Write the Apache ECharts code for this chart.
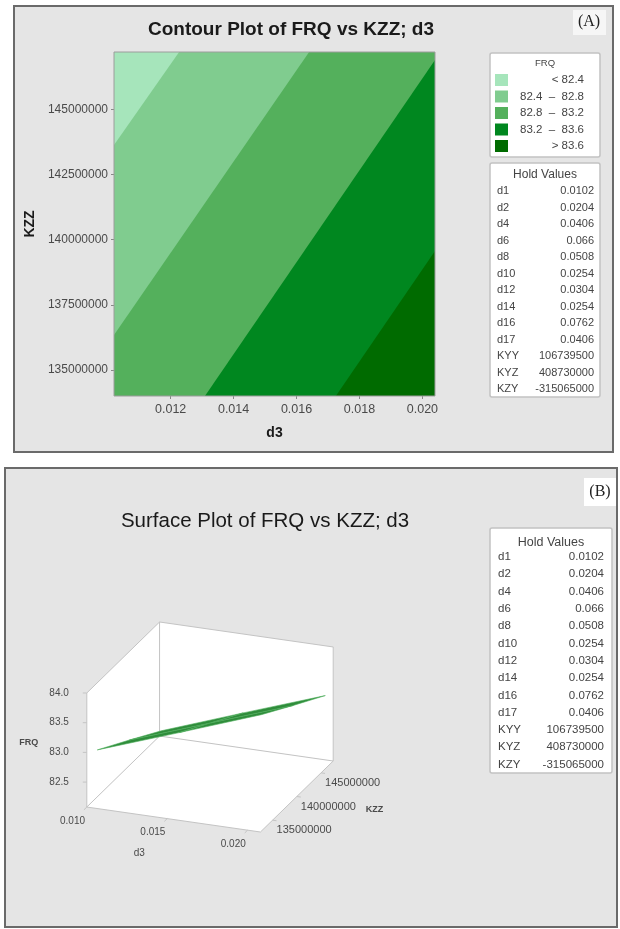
<!DOCTYPE html>
<html>
<head>
<meta charset="utf-8">
<script src="https://cdn.jsdelivr.net/npm/echarts@6/dist/echarts.min.js"></script>
<style>
html, body { margin: 0; padding: 0; background: #ffffff; }
#chart { width: 620px; height: 929px; }
</style>
</head>
<body>
<div id="chart"></div>
<script>
// ---- Contour plot (A) ----
const d3Range = [0.0102, 0.0204];
const kzzRange = [134000000, 147200000];
const d3Ticks = [0.012, 0.014, 0.016, 0.018, 0.020];
const kzzTicks = [135000000, 137500000, 140000000, 142500000, 145000000];

// FRQ contour levels; each level line runs from levelLineStart to levelLineEnd (d3, KZZ)
const frqLevels = [82.4, 82.8, 83.2, 83.6];
const levelLineStart = [[0.01227, 147200000], [0.01640, 147200000], [0.0204, 146890000], [0.0204, 139560000]];
const levelLineEnd = [[0.0102, 143630000], [0.0102, 136340000], [0.01309, 134000000], [0.01725, 134000000]];
const bandColors = ['#a6e5bb', '#80cc8f', '#54b05c', '#00871f', '#006b00'];
const bandLabels = ['< 82.4', '82.4  \u2013  82.8', '82.8  \u2013  83.2', '83.2  \u2013  83.6', '> 83.6'];

// Hold values shown beside both plots
const holdNames = ['d1', 'd2', 'd4', 'd6', 'd8', 'd10', 'd12', 'd14', 'd16', 'd17', 'KYY', 'KYZ', 'KZY'];
const holdValues = ['0.0102', '0.0204', '0.0406', '0.066', '0.0508', '0.0254', '0.0304', '0.0254', '0.0762', '0.0406', '106739500', '408730000', '-315065000'];

// ---- Surface plot (B) ----
const surfD3 = [0.0102, 0.0153, 0.0204];
const surfKzz = [134000000, 140600000, 147200000];
// surfFrq[i][j] is FRQ at d3 = surfD3[i], KZZ = surfKzz[j]
const surfFrq = [
  [82.93, 82.57, 82.20],
  [83.42, 83.06, 82.70],
  [83.92, 83.55, 83.19]
];
const box3dD3 = [0.0100, 0.0208];
const box3dKzz = [132500000, 147500000];
const box3dFrq = [82.08, 84.0];
const surfD3Ticks = [0.010, 0.015, 0.020];
const surfKzzTicks = [135000000, 140000000, 145000000];
const surfFrqTicks = [82.5, 83.0, 83.5, 84.0];

const SANS = '"Liberation Sans", Arial, sans-serif';
const SERIF = '"Liberation Serif", "Times New Roman", serif';

// Orthographic view of the 3D box, output in screen units (y up)
const view = { azimuth: 21 * Math.PI / 180, elevation: 22 * Math.PI / 180, lenX: 186, lenY: 203, lenZ: 123 };
function project(d3, kzz, frq) {
  const u = (d3 - box3dD3[0]) / (box3dD3[1] - box3dD3[0]) - 0.5;
  const v = (kzz - box3dKzz[0]) / (box3dKzz[1] - box3dKzz[0]) - 0.5;
  const w = (frq - box3dFrq[0]) / (box3dFrq[1] - box3dFrq[0]) - 0.5;
  const x = u * view.lenX, y = v * view.lenY, z = w * view.lenZ;
  const ca = Math.cos(view.azimuth), sa = Math.sin(view.azimuth);
  const ce = Math.cos(view.elevation), se = Math.sin(view.elevation);
  return [x * ca + y * sa, z * ce + (-x * sa + y * ca) * se];
}

// Keep the part of a convex polygon lying on the same side of line a-b as ref
function clipHalf(poly, a, b, ref) {
  const side = p => (b[0] - a[0]) * (p[1] - a[1]) - (b[1] - a[1]) * (p[0] - a[0]);
  const s = Math.sign(side(ref));
  const out = [];
  for (let i = 0; i < poly.length; i++) {
    const p = poly[i], q = poly[(i + 1) % poly.length];
    const sp = side(p) * s, sq = side(q) * s;
    if (sp >= 0) out.push(p);
    if ((sp >= 0) !== (sq >= 0)) {
      const t = sp / (sp - sq);
      out.push([p[0] + t * (q[0] - p[0]), p[1] + t * (q[1] - p[1])]);
    }
  }
  return out;
}

function renderBand(params, api) {
  const k = params.dataIndex;
  const tl = api.coord([d3Range[0], kzzRange[1]]);
  const tr = api.coord([d3Range[1], kzzRange[1]]);
  const br = api.coord([d3Range[1], kzzRange[0]]);
  const bl = api.coord([d3Range[0], kzzRange[0]]);
  let poly = [tl, tr, br, bl];
  if (k > 0) {
    poly = clipHalf(poly, api.coord(levelLineStart[k - 1]), api.coord(levelLineEnd[k - 1]), br);
  }
  return { type: 'polygon', z2: k, shape: { points: poly }, style: { fill: bandColors[k] } };
}

function renderFrame(params, api) {
  const P = (d, k, f) => api.coord(project(d, k, f));
  const [d0, d1] = box3dD3, [k0, k1] = box3dKzz, [f0, f1] = box3dFrq;
  const A = P(d0, k0, f0), B = P(d1, k0, f0), C = P(d1, k1, f0), D = P(d0, k1, f0);
  const A2 = P(d0, k0, f1), C2 = P(d1, k1, f1), D2 = P(d0, k1, f1);
  const kids = [];
  const wall = pts => ({ type: 'polygon', shape: { points: pts }, style: { fill: '#ffffff' } });
  kids.push(wall([A, B, C, D]), wall([A, D, D2, A2]), wall([D, C, C2, D2]));
  const edge = (p, q) => ({ type: 'line', shape: { x1: p[0], y1: p[1], x2: q[0], y2: q[1] }, style: { stroke: '#c4c4c4', lineWidth: 1 } });
  [[A, A2], [A2, D2], [D2, C2], [C2, C], [D, D2], [A, B], [B, C], [C, D], [D, A]].forEach(e => kids.push(edge(e[0], e[1])));
  const txt = (x, y, s, align, size, weight) => ({
    type: 'text', x: x, y: y,
    style: { text: s, fill: '#4a4a4a', font: (weight || 'normal') + ' ' + (size || 10) + 'px ' + SANS, align: align, verticalAlign: 'middle' }
  });
  const unit = (p, q) => { const dx = q[0] - p[0], dy = q[1] - p[1], l = Math.hypot(dx, dy); return [dx / l, dy / l]; };
  const toward = unit(D, A);   // d3 labels sit on the viewer side
  const outward = unit(A, B);  // KZZ labels sit to the right
  // FRQ axis
  surfFrqTicks.forEach(f => {
    const p = P(d0, k0, f);
    kids.push(edge([p[0] - 4, p[1]], p));
    kids.push(txt(p[0] - 18, p[1], f.toFixed(1), 'right'));
  });
  const zm = P(d0, k0, (f0 + f1) / 2);
  kids.push(txt(zm[0] - 58, zm[1] - 7, 'FRQ', 'center', 9, 'bold'));
  // d3 axis
  surfD3Ticks.forEach(d => {
    const p = P(d, k0, f0);
    kids.push(edge(p, [p[0] + toward[0] * 4, p[1] + toward[1] * 4]));
    kids.push(txt(p[0] + toward[0] * 20, p[1] + toward[1] * 20, d.toFixed(3), 'center'));
  });
  const xm = P((d0 + d1) / 2, k0, f0);
  kids.push(txt(xm[0] + toward[0] * 48, xm[1] + toward[1] * 48, 'd3', 'center', 10));
  // KZZ axis
  surfKzzTicks.forEach(k => {
    const p = P(d1, k, f0);
    kids.push(edge(p, [p[0] + outward[0] * 4, p[1] + outward[1] * 4]));
    kids.push(txt(p[0] + 4, p[1] + 10, String(k), 'left', 11));
  });
  const ym = P(d1, (k0 + k1) / 2, f0);
  kids.push(txt(ym[0] + 69, ym[1] + 13, 'KZZ', 'left', 9, 'bold'));
  return { type: 'group', children: kids };
}

function renderSurface(params, api) {
  const i = Math.floor(params.dataIndex / (surfKzz.length - 1));
  const j = params.dataIndex % (surfKzz.length - 1);
  const P = (a, b) => api.coord(project(surfD3[a], surfKzz[b], surfFrq[a][b]));
  return {
    type: 'polygon',
    shape: { points: [P(i, j), P(i + 1, j), P(i + 1, j + 1), P(i, j + 1)] },
    style: { fill: '#2f8c3b', stroke: '#4fae5c', lineWidth: 0.6 }
  };
}

const surfCells = [];
for (let i = 0; i < surfD3.length - 1; i++) {
  for (let j = 0; j < surfKzz.length - 1; j++) surfCells.push([i, j]);
}

// Decorations: panels, panel letters, legend and hold-value boxes
const graphics = [
  { type: 'rect', z: -10, shape: { x: 14, y: 6, width: 599, height: 446 }, style: { fill: '#e5e5e5', stroke: '#6a6a6a', lineWidth: 2 } },
  { type: 'rect', z: -10, shape: { x: 5, y: 468, width: 612, height: 459 }, style: { fill: '#e5e5e5', stroke: '#6a6a6a', lineWidth: 2 } },
  { type: 'rect', z: -5, shape: { x: 573, y: 10, width: 33, height: 25 }, style: { fill: '#f6f6f6' } },
  { type: 'text', z: 5, x: 589, y: 22, style: { text: '(A)', font: '16px ' + SERIF, fill: '#222', align: 'center', verticalAlign: 'middle' } },
  { type: 'rect', z: -5, shape: { x: 584, y: 478, width: 32, height: 28 }, style: { fill: '#ffffff' } },
  { type: 'text', z: 5, x: 600, y: 492, style: { text: '(B)', font: '16px ' + SERIF, fill: '#222', align: 'center', verticalAlign: 'middle' } },
  { type: 'rect', z: -5, shape: { x: 490, y: 53, width: 110, height: 104, r: 2 }, style: { fill: '#ffffff', stroke: '#c2c2c2', lineWidth: 1.5 } },
  { type: 'text', z: 5, x: 545, y: 63, style: { text: 'FRQ', font: '9.5px ' + SANS, fill: '#444', align: 'center', verticalAlign: 'middle' } }
];
bandLabels.forEach((lab, i) => {
  const y = 80 + i * 16.5;
  graphics.push({ type: 'rect', z: 5, shape: { x: 495, y: y - 6, width: 13, height: 12 }, style: { fill: bandColors[i] } });
  graphics.push({ type: 'text', z: 5, x: 584, y: y, style: { text: lab, font: '11.5px ' + SANS, fill: '#444', align: 'right', verticalAlign: 'middle' } });
});
function holdBox(x, y, w, h, headY, rowY, step, nameX, valX, size) {
  graphics.push({ type: 'rect', z: -5, shape: { x: x, y: y, width: w, height: h, r: 2 }, style: { fill: '#ffffff', stroke: '#c2c2c2', lineWidth: 1.5 } });
  graphics.push({ type: 'text', z: 5, x: x + w / 2, y: headY, style: { text: 'Hold Values', font: (size + 1) + 'px ' + SANS, fill: '#444', align: 'center', verticalAlign: 'middle' } });
  holdNames.forEach((n, i) => {
    const yy = rowY + i * step;
    graphics.push({ type: 'text', z: 5, x: nameX, y: yy, style: { text: n, font: size + 'px ' + SANS, fill: '#444', align: 'left', verticalAlign: 'middle' } });
    graphics.push({ type: 'text', z: 5, x: valX, y: yy, style: { text: holdValues[i], font: size + 'px ' + SANS, fill: '#444', align: 'right', verticalAlign: 'middle' } });
  });
}
holdBox(490, 163, 110, 234, 175, 191, 16.5, 497, 594, 11);
holdBox(490, 528, 122, 245, 543, 557, 17.3, 498, 604, 11.5);

const chart = echarts.init(document.getElementById('chart'));
chart.setOption({
  animation: false,
  backgroundColor: '#ffffff',
  title: [
    { text: 'Contour Plot of FRQ vs KZZ; d3', left: 286, top: 15, textAlign: 'center',
      textStyle: { fontFamily: SANS, fontSize: 19, fontWeight: 'bold', color: '#1a1a1a' } },
    { text: 'Surface Plot of FRQ vs KZZ; d3', left: 260, top: 506, textAlign: 'center',
      textStyle: { fontFamily: SANS, fontSize: 20.5, fontWeight: 'normal', color: '#1a1a1a' } }
  ],
  graphic: { elements: graphics },
  grid: [
    { left: 114, top: 52, width: 321, height: 344, show: true, z: 5, borderColor: '#9c9c9c', borderWidth: 1, backgroundColor: 'transparent' },
    { left: 60, top: 597, width: 300, height: 260, show: false }
  ],
  xAxis: [
    { type: 'value', gridIndex: 0, min: d3Range[0], max: d3Range[1], name: 'd3', nameLocation: 'middle', nameGap: 30,
      nameTextStyle: { fontFamily: SANS, fontSize: 14, fontWeight: 'bold', color: '#1a1a1a' },
      splitLine: { show: false }, axisLine: { show: false },
      axisTick: { show: true, length: 3, lineStyle: { color: '#888' }, customValues: d3Ticks },
      axisLabel: { customValues: d3Ticks, formatter: v => v.toFixed(3), fontFamily: SANS, fontSize: 12.5, color: '#4a4a4a', margin: 7 } },
    { type: 'value', gridIndex: 1, min: -150, max: 150, show: false }
  ],
  yAxis: [
    { type: 'value', gridIndex: 0, min: kzzRange[0], max: kzzRange[1], name: 'KZZ', nameLocation: 'middle', nameGap: 77, nameRotate: 90,
      nameTextStyle: { fontFamily: SANS, fontSize: 14, fontWeight: 'bold', color: '#1a1a1a' },
      splitLine: { show: false }, axisLine: { show: false },
      axisTick: { show: true, length: 3, lineStyle: { color: '#888' }, customValues: kzzTicks },
      axisLabel: { customValues: kzzTicks, formatter: v => String(Math.round(v)), fontFamily: SANS, fontSize: 12, color: '#4a4a4a', margin: 6 } },
    { type: 'value', gridIndex: 1, min: -130, max: 130, show: false }
  ],
  series: [
    { type: 'custom', name: 'FRQ bands', xAxisIndex: 0, yAxisIndex: 0, renderItem: renderBand,
      data: bandColors.map((c, i) => [i]), silent: true },
    { type: 'custom', name: 'box', xAxisIndex: 1, yAxisIndex: 1, renderItem: renderFrame, data: [[0]], silent: true, z: 2 },
    { type: 'custom', name: 'FRQ surface', xAxisIndex: 1, yAxisIndex: 1, renderItem: renderSurface, data: surfCells, silent: true, z: 3 }
  ]
});
</script>
</body>
</html>
